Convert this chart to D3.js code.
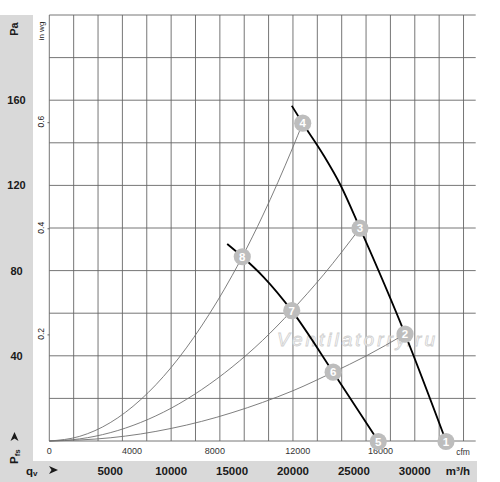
<!DOCTYPE html>
<html>
<head>
<meta charset="utf-8">
<script src="https://cdn.jsdelivr.net/npm/d3@7"></script>
<style>
  body { margin: 0; background: #fff; }
  svg { display: block; font-family: Arial, "Liberation Sans", sans-serif; }
</style>
</head>
<body>
<div id="chart"></div>
<script>
// fan curve data (flow m3/h, static pressure Pa)
var fanHighQ = [19900, 20800, 22500, 23900, 25500, 29200, 32560];
var fanHighP = [157.4, 149.2, 134.3, 120.2, 99.9, 50.2, 0];
var fanLowQ = [14600, 15840, 17570, 19900, 23300, 27000];
var fanLowP = [92.5, 86.5, 77.1, 61.2, 32.3, 0];

// system curves from origin
var sys1Q = [0, 2500, 5000, 7500, 10000, 12500, 15000, 15840, 17500, 20000, 20800];
var sys1P = [0, 2.2, 8.6, 19.4, 34.5, 54, 77.6, 86.5, 105.6, 138, 149.2];
var sys2Q = [0, 2500, 5000, 7500, 10000, 12500, 15000, 17500, 19900, 22500, 25500];
var sys2P = [0, 1, 3.9, 8.7, 15.4, 24.1, 34.7, 47.2, 61.2, 78, 99.9];
var sys3Q = [0, 5000, 7500, 10000, 12500, 15000, 17500, 20000, 23300, 26000, 29200];
var sys3P = [0, 1.5, 3.3, 5.9, 9.2, 13.3, 18.1, 23.6, 32.3, 39.9, 50.2];

// numbered operating points
var pointLabels = ["1", "2", "3", "4", "5", "6", "7", "8"];
var pointQ = [32560, 29200, 25500, 20800, 27000, 23300, 19900, 15840];
var pointP = [0, 50.2, 99.9, 149.2, 0, 32.3, 61.2, 86.5];

// tick labels
var paTicks = [40, 80, 120, 160];
var inwgTicks = [0.2, 0.4, 0.6];
var m3hTicks = [5000, 10000, 15000, 20000, 25000, 30000];
var cfmTicks = [0, 4000, 8000, 12000, 16000];

var W = 500, H = 482;
var plotL = 49.3, plotR = 475.7, plotT = 15, plotB = 441;
var M3H_PER_CFM = 1.699, PA_PER_INWG = 249.09;

var svg = d3.select("#chart").append("svg")
  .attr("width", W).attr("height", H);

// grey label bands
svg.append("rect").attr("x", 0).attr("y", 15).attr("width", 33).attr("height", H - 15)
  .attr("fill", "#d9d9d9");
svg.append("rect").attr("x", 0).attr("y", 461).attr("width", 477).attr("height", H - 461)
  .attr("fill", "#d9d9d9");

var x = d3.scaleLinear().domain([0, 35000]).range([plotL, plotR]);
var y = d3.scaleLinear().domain([0, 200]).range([plotB, plotT]);
var xCfm = d3.scaleLinear().domain([0, 35000 / M3H_PER_CFM]).range([plotL, plotR]);
var yInwg = d3.scaleLinear().domain([0, 200 / PA_PER_INWG]).range([plotB, plotT]);

// grid
var grid = svg.append("g").attr("stroke", "#666").attr("stroke-width", 0.9);
grid.selectAll("line.v").data(x.ticks(14)).enter().append("line")
  .attr("x1", function (d) { return x(d); }).attr("x2", function (d) { return x(d); })
  .attr("y1", plotT).attr("y2", plotB);
grid.selectAll("line.h").data(y.ticks(10)).enter().append("line")
  .attr("x1", plotL).attr("x2", plotR)
  .attr("y1", function (d) { return y(d); }).attr("y2", function (d) { return y(d); });

// watermark
svg.append("text")
  .attr("x", 277).attr("y", 346)
  .attr("textLength", 158).attr("lengthAdjust", "spacing")
  .attr("font-size", 19).attr("font-style", "italic")
  .attr("fill", "#ffffff").attr("stroke", "#c8c8c8").attr("stroke-width", 0.8)
  .attr("opacity", 0.85)
  .text("Ventilatorry.ru");

// Pa axis (left band)
svg.append("text")
  .attr("transform", "translate(18,29) rotate(-90)")
  .attr("text-anchor", "middle")
  .attr("font-size", 11).attr("font-weight", "bold").attr("fill", "#1a1a1a")
  .text("Pa");
svg.selectAll("text.pa").data(paTicks).enter().append("text")
  .attr("x", 16.5).attr("y", function (d) { return y(d); })
  .attr("dy", "0.36em").attr("text-anchor", "middle")
  .attr("font-size", 11).attr("font-weight", "bold").attr("fill", "#1a1a1a")
  .text(function (d) { return d; });

// in wg axis
svg.append("text")
  .attr("transform", "translate(43.5,31) rotate(-90)")
  .attr("text-anchor", "middle")
  .attr("font-size", 8).attr("fill", "#222")
  .text("in wg");
svg.selectAll("text.wg").data(inwgTicks).enter().append("text")
  .attr("transform", function (d) { return "translate(43.5," + (yInwg(d) - 1) + ") rotate(-90)"; })
  .attr("text-anchor", "middle")
  .attr("font-size", 8.5).attr("fill", "#222")
  .text(function (d) { return d; });
svg.selectAll("line.wg").data(inwgTicks).enter().append("line")
  .attr("x1", 47.5).attr("x2", plotL)
  .attr("y1", function (d) { return yInwg(d); }).attr("y2", function (d) { return yInwg(d); })
  .attr("stroke", "#444").attr("stroke-width", 0.8);

// cfm axis
svg.selectAll("text.cfm").data(cfmTicks).enter().append("text")
  .attr("x", function (d) { return xCfm(d); }).attr("y", 454)
  .attr("text-anchor", "middle")
  .attr("font-size", 9).attr("fill", "#333")
  .text(function (d) { return d; });
svg.append("text").attr("x", 463).attr("y", 454.5)
  .attr("text-anchor", "middle").attr("font-size", 8.5).attr("fill", "#333")
  .text("cfm");

function zip(qs, ps) {
  return qs.map(function (q, i) { return [q, ps[i]]; });
}

var line = d3.line()
  .x(function (d) { return x(d[0]); })
  .y(function (d) { return y(d[1]); })
  .curve(d3.curveMonotoneX);

// system curves
[zip(sys1Q, sys1P), zip(sys2Q, sys2P), zip(sys3Q, sys3P)].forEach(function (s) {
  svg.append("path").datum(s)
    .attr("fill", "none").attr("stroke", "#707070").attr("stroke-width", 0.9)
    .attr("d", line);
});

// fan curves
[zip(fanHighQ, fanHighP), zip(fanLowQ, fanLowP)].forEach(function (s) {
  svg.append("path").datum(s)
    .attr("fill", "none").attr("stroke", "#000").attr("stroke-width", 1.8)
    .attr("d", line);
});

// operating points (drawn over the cfm labels, as in the original)
var pts = svg.append("g").selectAll("g").data(pointLabels).enter().append("g")
  .attr("transform", function (d, i) {
    return "translate(" + x(pointQ[i]) + "," + (y(pointP[i]) + (pointP[i] === 0 ? 0.5 : 0)) + ")";
  });
pts.append("circle").attr("r", 8.6).attr("fill", "#bdbdbd");
pts.append("text")
  .attr("text-anchor", "middle").attr("dy", "0.36em")
  .attr("font-size", 11.5).attr("font-weight", "bold").attr("fill", "#fff")
  .text(function (d) { return d; });

// m3/h axis (bottom band)
svg.selectAll("text.m3h").data(m3hTicks).enter().append("text")
  .attr("x", function (d) { return x(d); }).attr("y", 474.5)
  .attr("text-anchor", "middle")
  .attr("font-size", 11.5).attr("font-weight", "bold").attr("fill", "#1a1a1a")
  .text(function (d) { return d; });
svg.append("text").attr("x", 458).attr("y", 474.5)
  .attr("text-anchor", "middle")
  .attr("font-size", 11.5).attr("font-weight", "bold").attr("fill", "#1a1a1a")
  .text("m³/h");

// qv arrow label
var qv = svg.append("text").attr("x", 26).attr("y", 474.5)
  .attr("font-size", 11.5).attr("font-weight", "bold").attr("fill", "#1a1a1a");
qv.append("tspan").text("q");
qv.append("tspan").attr("font-size", 8).attr("dy", 1.5).text("v");
svg.append("path")
  .attr("d", "M49,466 L58,470 L49,474 L51.5,470 Z")
  .attr("fill", "#1a1a1a");

// Pfs arrow label
var pfs = svg.append("text")
  .attr("transform", "translate(18,464) rotate(-90)")
  .attr("font-size", 11.5).attr("font-weight", "bold").attr("fill", "#1a1a1a");
pfs.append("tspan").text("P");
pfs.append("tspan").attr("font-size", 8).attr("dy", 1.5).text("fs");
svg.append("path")
  .attr("d", "M10.5,441 L14.5,432 L18.5,441 L14.5,438.5 Z")
  .attr("fill", "#1a1a1a");
</script>
</body>
</html>
